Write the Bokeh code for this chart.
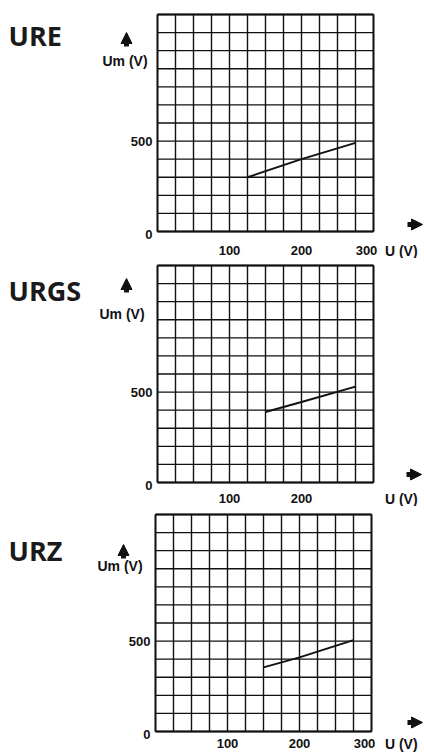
from bokeh.plotting import figure
from bokeh.layouts import column
from bokeh.models import Arrow, NormalHead, Range1d
from bokeh.core.properties import value
from bokeh.embed import file_html
from bokeh.resources import INLINE

# ---- data ----
titles = ["URE", "URGS", "URZ"]
ure_u = [125, 200, 275]
ure_um = [300, 400, 490]
urgs_u = [150, 200, 275]
urgs_um = [390, 445, 530]
urz_u = [150, 200, 275]
urz_um = [355, 410, 505]
u_grid = [0, 25, 50, 75, 100, 125, 150, 175, 200, 225, 250, 275, 300]
um_grid = [0, 100, 200, 300, 400, 500, 600, 700, 800, 900, 1000, 1100, 1200]
y_ticks = [0, 500]
x_ticks_ure = [100, 200, 300]
x_ticks_urgs = [100, 200]
x_ticks_urz = [100, 200, 300]
x_label = "U  (V)"
y_label = "Um  (V)"

U_MAX, UM_MAX = 300, 1200
FIG_W = 424
FRAME_W = 216
INK = "#111111"
LAB_FONT = value("Liberation Sans")

# layout in window pixels (Bokeh page has no body margin)
panels = [
    dict(title=titles[0], u=ure_u, um=ure_um, xt=x_ticks_ure,
         top=0, h=258, L=157, T=14, FH=217, xtb=250,
         tb=35, uml=102, umb=60, ax=126, ay0=46, ay1=32,
         xr=421, xb=250, rx0=407, rx1=422, ry=224),
    dict(title=titles[1], u=urgs_u, um=urgs_um, xt=x_ticks_urgs,
         top=258, h=248, L=157, T=265, FH=217, xtb=498,
         tb=290, uml=99, umb=313, ax=126, ay0=292, ay1=278,
         xr=421, xb=498, rx0=406, rx1=421, ry=474),
    dict(title=titles[2], u=urz_u, um=urz_um, xt=x_ticks_urz,
         top=506, h=247, L=155, T=514, FH=217, xtb=743,
         tb=550, uml=97, umb=565, ax=123, ay0=558, ay1=544,
         xr=421, xb=743, rx0=407, rx1=422, ry=722),
]

figs = []
for P in panels:
    L, T, FH = P["L"], P["T"], P["FH"]
    B = T + FH

    def dx(px, L=L):
        return (px - L) * U_MAX / FRAME_W

    def dy(py, B=B, FH=FH):
        return (B - py) * UM_MAX / FH

    p = figure(width=FIG_W, height=P["h"], output_backend="svg",
               toolbar_location=None,
               x_range=Range1d(dx(0), dx(FIG_W)),
               y_range=Range1d(dy(P["top"] + P["h"]), dy(P["top"])),
               x_axis_location=None, y_axis_location=None,
               min_border=0)
    p.background_fill_color = "white"
    p.border_fill_color = "white"
    p.outline_line_color = None
    p.grid.visible = False

    # grid lines drawn from the grid value lists
    n_u, n_um = len(u_grid), len(um_grid)
    p.segment(x0=u_grid, y0=[um_grid[0]] * n_u, x1=u_grid, y1=[um_grid[-1]] * n_u,
              line_color=INK, line_width=1.4)
    p.segment(x0=[u_grid[0]] * n_um, y0=um_grid, x1=[u_grid[-1]] * n_um, y1=um_grid,
              line_color=INK, line_width=1.4)
    # frame outline slightly heavier
    p.segment(x0=[u_grid[0], u_grid[-1]], y0=[um_grid[0]] * 2,
              x1=[u_grid[0], u_grid[-1]], y1=[um_grid[-1]] * 2,
              line_color=INK, line_width=1.8)
    p.segment(x0=[u_grid[0]] * 2, y0=[um_grid[0], um_grid[-1]],
              x1=[u_grid[-1]] * 2, y1=[um_grid[0], um_grid[-1]],
              line_color=INK, line_width=1.8)

    # data line
    p.line(P["u"], P["um"], line_color=INK, line_width=1.9)

    # tick labels
    xt = P["xt"]
    p.text(x=xt, y=[dy(P["xtb"])] * len(xt), text=[str(t) for t in xt],
           x_offset=[-7 if t == U_MAX else 0 for t in xt],
           text_align="center", text_baseline="alphabetic",
           text_font=LAB_FONT, text_font_style="bold",
           text_font_size="13px", text_color=INK)
    p.text(x=[dx(L - 5)] * len(y_ticks), y=y_ticks, text=[str(t) for t in y_ticks],
           y_offset=[3 if t == 0 else 0 for t in y_ticks],
           text_align="right", text_baseline="middle",
           text_font=LAB_FONT, text_font_style="bold",
           text_font_size="13px", text_color=INK)

    # panel title and axis names
    p.text(x=[dx(8)], y=[dy(P["tb"])], text=[P["title"]],
           text_align="left", text_baseline="alphabetic",
           text_font=value("Open Sans"), text_font_style="bold",
           text_font_size="27px", text_color="#1a1a1a")
    p.text(x=[dx(P["uml"])], y=[dy(P["umb"])], text=[y_label],
           text_align="left", text_baseline="alphabetic",
           text_font=LAB_FONT, text_font_style="bold",
           text_font_size="14px", text_color=INK)
    p.text(x=[dx(P["xr"])], y=[dy(P["xb"])], text=[x_label],
           text_align="right", text_baseline="alphabetic",
           text_font=LAB_FONT, text_font_style="bold",
           text_font_size="14px", text_color=INK)

    # arrows
    p.add_layout(Arrow(x_start=dx(P["ax"]), y_start=dy(P["ay0"]),
                       x_end=dx(P["ax"]), y_end=dy(P["ay1"]),
                       end=NormalHead(size=11, fill_color=INK,
                                      line_color=INK, line_width=1),
                       line_width=5, line_color=INK))
    p.add_layout(Arrow(x_start=dx(P["rx0"]), y_start=dy(P["ry"]),
                       x_end=dx(P["rx1"]), y_end=dy(P["ry"]),
                       end=NormalHead(size=11, fill_color=INK,
                                      line_color=INK, line_width=1),
                       line_width=5, line_color=INK))
    figs.append(p)

layout = column(*figs, spacing=0)
open("out.html", "w").write(file_html(layout, INLINE))
